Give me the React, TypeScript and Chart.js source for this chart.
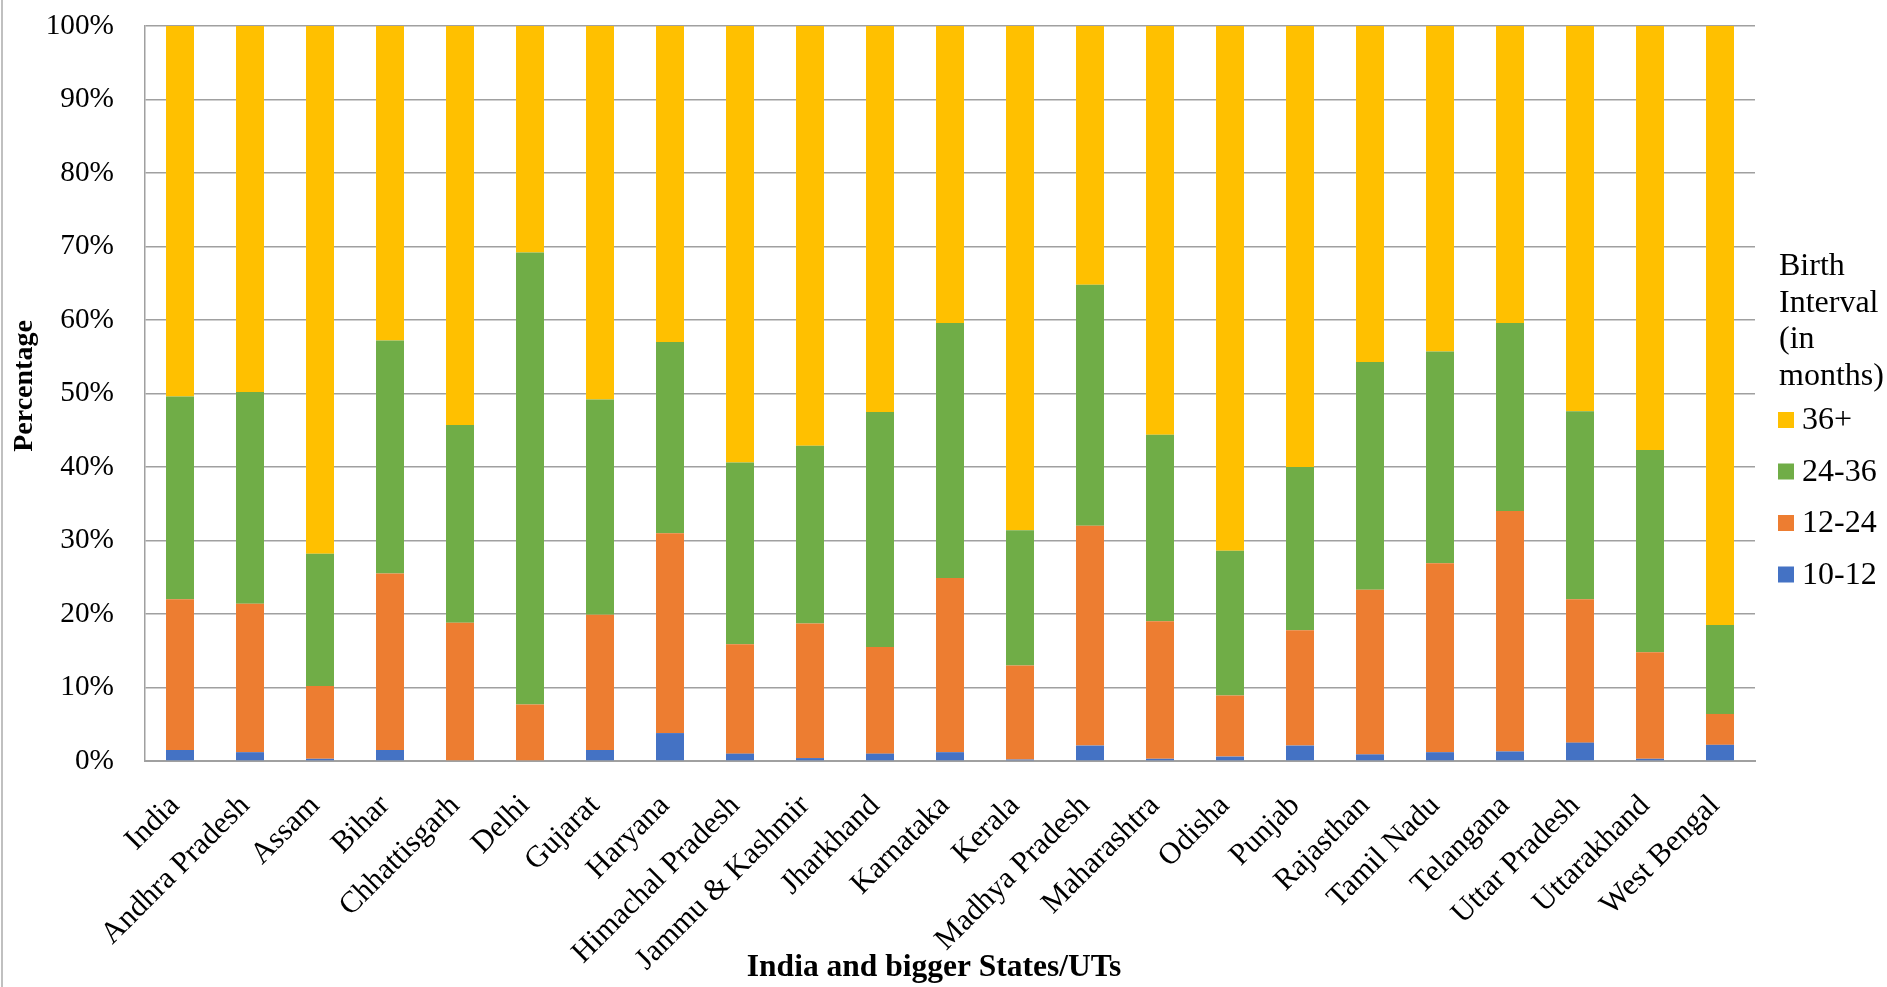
import React, { useEffect, useRef } from "react";
import { Chart, registerables } from "chart.js";

Chart.register(...registerables);

const categories = [
  "India", "Andhra Pradesh", "Assam", "Bihar", "Chhattisgarh", "Delhi", "Gujarat",
  "Haryana", "Himachal Pradesh", "Jammu & Kashmir", "Jharkhand", "Karnataka", "Kerala",
  "Madhya Pradesh", "Maharashtra", "Odisha", "Punjab", "Rajasthan", "Tamil Nadu",
  "Telangana", "Uttar Pradesh", "Uttarakhand", "West Bengal",
];

const series10to12 = [1.5, 1.2, 0.3, 1.5, 0.1, 0.0, 1.5, 3.8, 1.0, 0.4, 1.0, 1.2, 0.2, 2.1, 0.3, 0.6, 2.1, 0.9, 1.2, 1.3, 2.5, 0.3, 2.2];
const series12to24 = [20.5, 20.2, 9.9, 24.0, 18.7, 7.7, 18.4, 27.2, 14.9, 18.3, 14.5, 23.7, 12.8, 29.9, 18.7, 8.3, 15.7, 22.4, 25.7, 32.7, 19.5, 14.5, 4.2];
const series24to36 = [27.6, 28.8, 18.0, 31.7, 26.9, 61.5, 29.3, 26.0, 24.7, 24.2, 32.0, 34.7, 18.4, 32.8, 25.4, 19.7, 22.2, 31.0, 28.8, 25.6, 25.6, 27.5, 12.1];
const series36plus = [50.4, 49.8, 71.8, 42.8, 54.3, 30.8, 50.8, 43.0, 59.4, 57.1, 52.5, 40.4, 68.6, 35.2, 55.6, 71.4, 60.0, 45.7, 44.3, 40.4, 52.4, 57.7, 81.5];

const seriesLabels = ["10-12", "12-24", "24-36", "36+"];
const seriesColors = ["#4472C4", "#ED7D31", "#70AD47", "#FFC000"];

const yTicks = [0, 10, 20, 30, 40, 50, 60, 70, 80, 90, 100];
const xTitle = "India and bigger States/UTs";
const yTitle = "Percentage";
const legendTitle = ["Birth", "Interval", "(in", "months)"];

const SERIF = "'Liberation Serif', 'Times New Roman', serif";

const overlayPlugin = {
  id: "overlay",
  afterDraw(chart: any) {
    const { ctx, chartArea } = chart;
    ctx.save();
    // outer left border
    ctx.strokeStyle = "#c0c0c0";
    ctx.lineWidth = 2;
    ctx.beginPath();
    ctx.moveTo(2, 0);
    ctx.lineTo(2, chart.height);
    ctx.stroke();

    ctx.fillStyle = "#000";
    // y title
    ctx.save();
    ctx.font = `bold 28px ${SERIF}`;
    ctx.textAlign = "center";
    ctx.textBaseline = "middle";
    ctx.translate(25, chartArea.top + 360);
    ctx.rotate(-Math.PI / 2);
    ctx.fillText(yTitle, 0, 0);
    ctx.restore();

    // x title
    ctx.font = `bold 31.5px ${SERIF}`;
    ctx.textAlign = "center";
    ctx.textBaseline = "middle";
    ctx.fillText(xTitle, (chartArea.left + chartArea.right) / 2 - 16, chart.height - 19);

    // legend
    const lx = chartArea.right + 24;
    ctx.font = `32px ${SERIF}`;
    ctx.textAlign = "left";
    ctx.textBaseline = "alphabetic";
    legendTitle.forEach((line, i) => {
      ctx.fillText(line, lx, chartArea.top + 249 + i * 36.7);
    });
    const ds = chart.data.datasets.slice().reverse();
    ctx.textBaseline = "middle";
    ds.forEach((d: any, i: number) => {
      const cy = chartArea.top + 394 + i * 51.5;
      ctx.fillStyle = d.backgroundColor;
      ctx.fillRect(lx - 1, cy - 8, 16, 16);
      ctx.fillStyle = "#000";
      ctx.fillText(d.label, lx + 23, cy + 1);
    });
    ctx.restore();
  },
};

export default function App() {
  const canvasRef = useRef<HTMLCanvasElement | null>(null);

  useEffect(() => {
    if (!canvasRef.current) return;
    const seriesData = [series10to12, series12to24, series24to36, series36plus];
    const chart = new Chart(canvasRef.current, {
      type: "bar",
      data: {
        labels: categories,
        datasets: seriesData.map((d, i) => ({
          label: seriesLabels[i],
          data: d,
          backgroundColor: seriesColors[i],
          borderWidth: 0,
          categoryPercentage: 1,
          barPercentage: 0.4,
        })),
      },
      options: {
        animation: false,
        responsive: true,
        maintainAspectRatio: false,
        layout: { padding: { left: 0, top: 26, right: 132, bottom: 0 } },
        plugins: {
          legend: { display: false },
          tooltip: { enabled: false },
          title: { display: false },
        },
        scales: {
          x: {
            stacked: true,
            grid: { display: false, drawTicks: false },
            border: { display: true, color: "#a0a0a0", width: 2 },
            ticks: {
              autoSkip: false,
              maxRotation: 45,
              minRotation: 45,
              padding: 27,
              labelOffset: -5,
              color: "#000",
              font: { family: SERIF, size: 30.5 },
            },
            afterFit: (scale: any) => {
              scale.height = 226;
            },
          },
          y: {
            stacked: true,
            min: 0,
            max: 100,
            afterBuildTicks: (scale: any) => {
              scale.ticks = yTicks.map((v) => ({ value: v }));
            },
            grid: {
              color: "#a0a0a0",
              lineWidth: 1.5,
              drawTicks: true,
              tickLength: 31,
              tickColor: "rgba(0,0,0,0)",
            },
            border: { display: true, color: "#a0a0a0", width: 1.5 },
            ticks: {
              padding: 0,
              color: "#000",
              font: { family: SERIF, size: 29.3 },
              callback: (v: any) => `${v}%`,
            },
            afterFit: (scale: any) => {
              scale.width = 145;
            },
          },
        },
      },
      plugins: [overlayPlugin],
    });
    return () => chart.destroy();
  }, []);

  return (
    <div style={{ position: "fixed", left: 0, top: 0, width: 1887, height: 987, background: "#fff" }}>
      <canvas ref={canvasRef} />
    </div>
  );
}
